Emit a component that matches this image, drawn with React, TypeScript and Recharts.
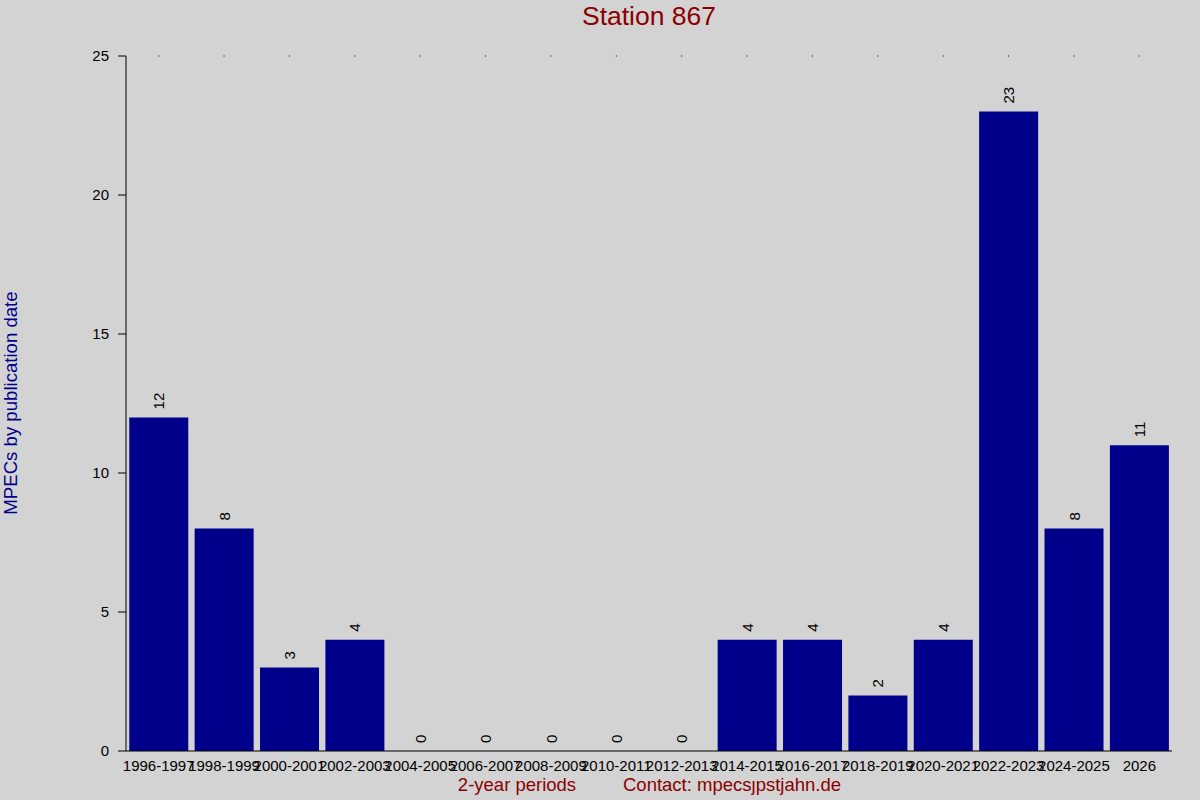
import React from "react";
import { Bar, BarChart, LabelList, XAxis, YAxis } from "recharts";

const periods = [
  "1996-1997",
  "1998-1999",
  "2000-2001",
  "2002-2003",
  "2004-2005",
  "2006-2007",
  "2008-2009",
  "2010-2011",
  "2012-2013",
  "2014-2015",
  "2016-2017",
  "2018-2019",
  "2020-2021",
  "2022-2023",
  "2024-2025",
  "2026"
];
const counts = [12, 8, 3, 4, 0, 0, 0, 0, 0, 4, 4, 2, 4, 23, 8, 11];
const yTicks = [0, 5, 10, 15, 20, 25];

const data = periods.map((period, i) => ({ period, count: counts[i] }));

const font = "'Liberation Sans', Arial, sans-serif";
const darkRed = "#8b0000";
const darkBlue = "#00008b";

function ValueLabel(props: any) {
  const { x, y, width, height, value } = props;
  const cx = Number(x) + Number(width) / 2;
  // top of the bar, whichever way round the rectangle is given
  const top = Math.min(Number(y), Number(y) + Number(height || 0));
  const cy = top - 8;
  return (
    <text
      x={cx}
      y={cy}
      transform={`rotate(-90 ${cx} ${cy})`}
      textAnchor="start"
      dominantBaseline="central"
      fontSize={15}
      fontFamily={font}
      fill="#000"
    >
      {value}
    </text>
  );
}

function PeriodTick(props: any) {
  const { x, y, payload } = props;
  return (
    <text x={x} y={Number(y) + 18} textAnchor="middle" fontSize={15} fontFamily={font} fill="#000">
      {payload.value}
    </text>
  );
}

function DotTick(props: any) {
  const { x } = props;
  return <rect x={Number(x) - 0.5} y={55.5} width={1} height={1} fill="#000" />;
}

export default function App() {
  return (
    <div
      style={{
        position: "absolute",
        left: 0,
        top: 0,
        width: 1200,
        height: 800,
        background: "#d3d3d3",
        fontFamily: font
      }}
    >
      <div
        style={{
          position: "absolute",
          left: 126,
          width: 1046,
          top: 1,
          textAlign: "center",
          fontSize: 26.5,
          color: darkRed
        }}
      >
        Station 867
      </div>
      <div
        style={{
          position: "absolute",
          left: 11,
          top: 403,
          transform: "translate(-50%, -50%) rotate(-90deg)",
          whiteSpace: "nowrap",
          fontSize: 18.6,
          color: darkBlue
        }}
      >
        MPECs by publication date
      </div>
      <div
        style={{
          position: "absolute",
          left: 517,
          top: 774,
          transform: "translateX(-50%)",
          whiteSpace: "nowrap",
          fontSize: 18.5,
          color: darkRed
        }}
      >
        2-year periods
      </div>
      <div
        style={{
          position: "absolute",
          left: 732,
          top: 774,
          transform: "translateX(-50%)",
          whiteSpace: "nowrap",
          fontSize: 18.5,
          color: darkRed
        }}
      >
        Contact: mpecsȷpstjahn.de
      </div>
      <BarChart
        width={1200}
        height={800}
        data={data}
        margin={{ top: 55, right: 28, left: 0, bottom: 19 }}
        barCategoryGap="5%"
        style={{ position: "absolute", left: 0, top: 0 }}
      >
        <XAxis
          xAxisId="top"
          orientation="top"
          dataKey="period"
          height={1}
          axisLine={false}
          tickLine={false}
          tickSize={0}
          tick={<DotTick />}
          interval={0}
        />
        <XAxis
          xAxisId="bottom"
          dataKey="period"
          height={30}
          axisLine={{ stroke: "#000" }}
          tickLine={false}
          tickSize={0}
          tick={<PeriodTick />}
          interval={0}
        />
        <YAxis
          domain={[0, 25]}
          ticks={yTicks}
          width={126}
          axisLine={{ stroke: "#000" }}
          tickLine={{ stroke: "#000" }}
          tickSize={8}
          tickMargin={9}
          tick={{ fontSize: 15, fontFamily: font, fill: "#000" }}
        />
        <Bar xAxisId="bottom" dataKey="count" fill={darkBlue} minPointSize={0.01} isAnimationActive={false}>
          <LabelList dataKey="count" content={<ValueLabel />} />
        </Bar>
      </BarChart>
    </div>
  );
}
